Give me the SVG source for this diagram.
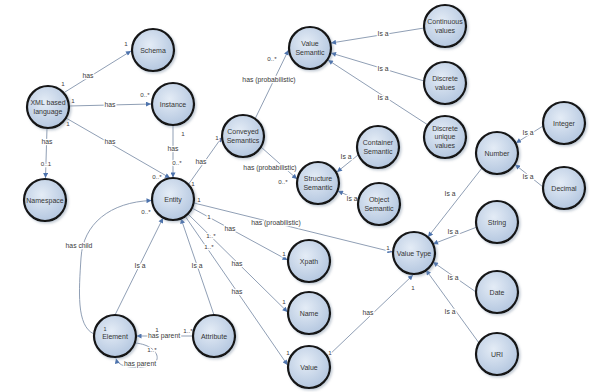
<svg xmlns="http://www.w3.org/2000/svg" width="600" height="392" viewBox="0 0 600 392">
<defs>
<radialGradient id="g" cx="42%" cy="38%" r="65%">
<stop offset="0" stop-color="#e4ecf6"/>
<stop offset="1" stop-color="#b3c6df"/>
</radialGradient>
<filter id="sh" x="-30%" y="-30%" width="160%" height="160%">
<feDropShadow dx="1.5" dy="1.5" stdDeviation="1.3" flood-color="#7d8da3" flood-opacity="0.45"/>
</filter>
<marker id="arr" viewBox="0 0 10 10" refX="10" refY="5" markerWidth="6" markerHeight="5" orient="auto" markerUnits="userSpaceOnUse">
<path d="M0,0 L10,5 L0,10 z" fill="#4d73ad"/>
</marker>
<style>
.node circle{fill:url(#g);stroke:#141414;stroke-width:2.2;filter:url(#sh)}
.node text{font-family:"Liberation Sans",Arial,sans-serif;font-size:7px;fill:#353535;text-anchor:middle}
.edge{fill:none;stroke:#909fb5;stroke-width:1;marker-end:url(#arr)}
.lbl{font-family:"Liberation Sans",Arial,sans-serif;font-size:6.8px;fill:#3a3a3a;text-anchor:middle;stroke:#fff;stroke-width:2.6;stroke-linejoin:round;paint-order:stroke}
.c{font-size:6.2px}
</style>
</defs>
<rect width="600" height="392" fill="#fff"/>
<g id="connectors">
<path class="edge" d="M65,92 L131,51"/>
<path class="edge" d="M69,106 L151,104"/>
<path class="edge" d="M47,128 L45.5,178"/>
<path class="edge" d="M66,118 L170,178"/>
<path class="edge" d="M173,125 L173,177.5"/>
<path class="edge" d="M188,185 L222,137"/>
<path class="edge" d="M255,119 L288.5,50"/>
<path class="edge" d="M261,147 L297,179"/>
<path class="edge" d="M424,28 L331,43"/>
<path class="edge" d="M424,81 L331,53"/>
<path class="edge" d="M428,125 L328,60"/>
<path class="edge" d="M358,155 L337,172"/>
<path class="edge" d="M358,200 L338,191"/>
<path class="edge" d="M194,203 L392.5,252"/>
<path class="edge" d="M192,208 L287.5,260"/>
<path class="edge" d="M188,214 L287.5,312"/>
<path class="edge" d="M185,216 L287.5,365"/>
<path class="edge" d="M327,357 L413,275"/>
<path class="edge" d="M543,126 L516,143"/>
<path class="edge" d="M543,187 L515,164.5"/>
<path class="edge" d="M482,168 L428,237"/>
<path class="edge" d="M477,227 L433,244"/>
<path class="edge" d="M476,292 L433,262"/>
<path class="edge" d="M479,343 L426,270"/>
<path class="edge" d="M115,315 L163,218"/>
<path class="edge" d="M214,315 L181,218.5"/>
<path class="edge" d="M193,336 L136.5,336"/>
<path class="edge" d="M94,334 C76,326 79,290 81,258 C83,224 110,202 151.5,200.5"/>
<path class="edge" d="M135,343 C160,345 166,366 142,367 C128,368 118,366 116,358.5"/>
</g>
<g id="labels">
<text class="lbl" x="88" y="78.3">has</text>
<text class="lbl c" x="63" y="86">1</text>
<text class="lbl c" x="126" y="46">1</text>
<text class="lbl" x="110" y="107.3">has</text>
<text class="lbl c" x="73" y="103">1</text>
<text class="lbl c" x="145" y="97">0..*</text>
<text class="lbl" x="47" y="144.3">has</text>
<text class="lbl c" x="46" y="166">0..1</text>
<text class="lbl c" x="40" y="126">1</text>
<text class="lbl" x="110" y="144.3">has</text>
<text class="lbl c" x="68" y="126">1</text>
<text class="lbl c" x="157" y="179">0..*</text>
<text class="lbl" x="173" y="151.3">has</text>
<text class="lbl c" x="183" y="136">1</text>
<text class="lbl c" x="177" y="165">0..*</text>
<text class="lbl" x="201" y="164.3">has</text>
<text class="lbl c" x="193" y="186">1</text>
<text class="lbl c" x="217" y="140">1</text>
<text class="lbl" x="269" y="82.3">has (probabilistic)</text>
<text class="lbl c" x="272" y="61">0..*</text>
<text class="lbl" x="270" y="170.3">has (probabilistic)</text>
<text class="lbl c" x="283" y="184">0..*</text>
<text class="lbl" x="383" y="36.3">Is a</text>
<text class="lbl" x="383" y="71.3">Is a</text>
<text class="lbl" x="383" y="100.3">Is a</text>
<text class="lbl" x="346" y="159.3">Is a</text>
<text class="lbl" x="352" y="201.3">Is a</text>
<text class="lbl" x="276" y="225.3">has (proabilistic)</text>
<text class="lbl c" x="199" y="202">1</text>
<text class="lbl c" x="388" y="250">1</text>
<text class="lbl" x="230" y="231.3">has</text>
<text class="lbl c" x="209" y="219">1</text>
<text class="lbl c" x="284" y="256">1</text>
<text class="lbl" x="237" y="266.3">has</text>
<text class="lbl c" x="211" y="238">1..*</text>
<text class="lbl c" x="284" y="304">1</text>
<text class="lbl" x="237" y="294.3">has</text>
<text class="lbl c" x="209" y="249">1..*</text>
<text class="lbl c" x="288" y="355">1</text>
<text class="lbl" x="368" y="315.3">has</text>
<text class="lbl c" x="330" y="355">1</text>
<text class="lbl c" x="413" y="290">1</text>
<text class="lbl" x="528" y="135.3">Is a</text>
<text class="lbl" x="528" y="179.3">Is a</text>
<text class="lbl" x="450" y="196.3">Is a</text>
<text class="lbl" x="453" y="234.3">Is a</text>
<text class="lbl" x="453" y="280.3">Is a</text>
<text class="lbl" x="450" y="314.3">Is a</text>
<text class="lbl" x="140" y="268.3">Is a</text>
<text class="lbl" x="197" y="268.3">Is a</text>
<text class="lbl" x="164" y="338.3">has parent</text>
<text class="lbl c" x="188" y="333">1..*</text>
<text class="lbl c" x="157" y="332">1</text>
<text class="lbl" x="79" y="248.3">has child</text>
<text class="lbl c" x="146" y="214">0..*</text>
<text class="lbl" x="140" y="366.3">has parent</text>
<text class="lbl c" x="152" y="352">1..*</text>
</g>
<g id="schema" class="node"><circle cx="153" cy="50" r="21"/><text x="153" y="52.5">Schema</text></g>
<g id="xml" class="node"><circle cx="48" cy="107" r="21"/><text x="48" y="105.3">XML based</text><text x="48" y="113.8">language</text></g>
<g id="instance" class="node"><circle cx="173" cy="104" r="21"/><text x="173" y="106.5">Instance</text></g>
<g id="namespace" class="node"><circle cx="45" cy="200" r="21"/><text x="45" y="202.5">Namespace</text></g>
<g id="entity" class="node"><circle cx="173" cy="199" r="21"/><text x="173" y="201.5">Entity</text></g>
<g id="conveyed" class="node"><circle cx="243" cy="136" r="21"/><text x="243" y="134.3">Conveyed</text><text x="243" y="142.8">Semantics</text></g>
<g id="valuesemantic" class="node"><circle cx="310" cy="48" r="21"/><text x="310" y="46.3">Value</text><text x="310" y="54.8">Semantic</text></g>
<g id="continuous" class="node"><circle cx="445" cy="26" r="21"/><text x="445" y="24.3">Continuous</text><text x="445" y="32.8">values</text></g>
<g id="discrete" class="node"><circle cx="445" cy="83" r="21"/><text x="445" y="81.3">Discrete</text><text x="445" y="89.8">values</text></g>
<g id="discreteunique" class="node"><circle cx="445" cy="137" r="21"/><text x="445" y="130.5">Discrete</text><text x="445" y="139">unique</text><text x="445" y="147.5">values</text></g>
<g id="integer" class="node"><circle cx="564" cy="123" r="21"/><text x="564" y="125.5">Integer</text></g>
<g id="number" class="node"><circle cx="497" cy="153" r="21"/><text x="497" y="155.5">Number</text></g>
<g id="decimal" class="node"><circle cx="564" cy="188" r="21"/><text x="564" y="190.5">Decimal</text></g>
<g id="string" class="node"><circle cx="497" cy="222" r="21"/><text x="497" y="224.5">String</text></g>
<g id="structure" class="node"><circle cx="318" cy="183" r="21"/><text x="318" y="181.3">Structure</text><text x="318" y="189.8">Semantic</text></g>
<g id="container" class="node"><circle cx="378" cy="147" r="21"/><text x="378" y="145.3">Container</text><text x="378" y="153.8">Semantic</text></g>
<g id="object" class="node"><circle cx="379" cy="204" r="21"/><text x="379" y="202.3">Object</text><text x="379" y="210.8">Semantic</text></g>
<g id="valuetype" class="node"><circle cx="414" cy="253" r="21"/><text x="414" y="255.5">Value Type</text></g>
<g id="xpath" class="node"><circle cx="309" cy="261" r="21"/><text x="309" y="263.5">Xpath</text></g>
<g id="name" class="node"><circle cx="309" cy="313" r="21"/><text x="309" y="315.5">Name</text></g>
<g id="value" class="node"><circle cx="309" cy="367" r="21"/><text x="309" y="369.5">Value</text></g>
<g id="date" class="node"><circle cx="497" cy="292" r="21"/><text x="497" y="294.5">Date</text></g>
<g id="uri" class="node"><circle cx="497" cy="354" r="21"/><text x="497" y="356.5">URI</text></g>
<g id="element" class="node"><circle cx="115" cy="336" r="21"/><text x="115" y="338.5">Element</text><text x="105" y="331" style="font-size:5.5px">1</text></g>
<g id="attribute" class="node"><circle cx="214" cy="336" r="21"/><text x="214" y="338.5">Attribute</text></g>
</svg>
